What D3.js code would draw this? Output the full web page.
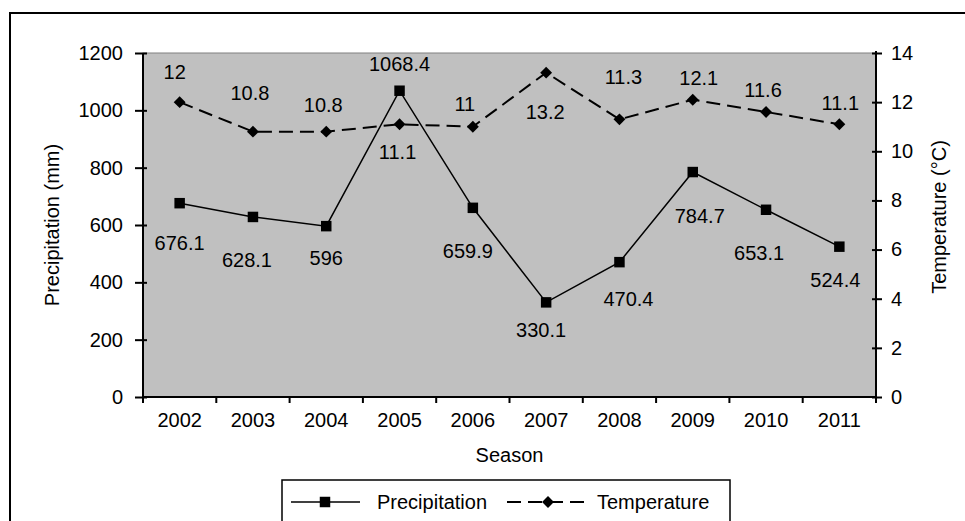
<!DOCTYPE html>
<html lang="en">

<head>
  <meta charset="UTF-8">
  <title>Precipitation and Temperature by Season</title>
  <script src="https://d3js.org/d3.v7.min.js"></script>
  <style>
    body {
      margin: 0;
      background: #fff;
    }

    text {
      font-family: "Liberation Sans", Arial, sans-serif;
      font-size: 20px;
      fill: #000;
    }
  </style>
</head>

<body>
  <div id="chart"></div>
  <script>
    // data
    const seasons = ["2002", "2003", "2004", "2005", "2006", "2007", "2008", "2009", "2010", "2011"];
    const precipitation = [676.1, 628.1, 596, 1068.4, 659.9, 330.1, 470.4, 784.7, 653.1, 524.4];
    const temperature = [12, 10.8, 10.8, 11.1, 11, 13.2, 11.3, 12.1, 11.6, 11.1];
    const precipTicks = [0, 200, 400, 600, 800, 1000, 1200];
    const tempTicks = [0, 2, 4, 6, 8, 10, 12, 14];

    // where Excel put each data label, relative to its point [dx, dy]
    const precipLabelPos = [[0, 40], [-6, 43], [0, 32], [0, -27], [-5, 43], [-5, 28], [9, 37], [7, 44], [-7, 43], [-4, 33]];
    const tempLabelPos = [[-5, -30], [-3, -39], [-3, -27], [-2, 28], [-8, -23], [-1, 39], [4, -42], [6, -22], [-3, -22], [1, -21]];

    const width = 965, height = 521;
    const plot = { left: 143, right: 876, top: 53, bottom: 397 };

    const svg = d3.select("#chart").append("svg")
      .attr("width", width)
      .attr("height", height);

    // outer chart frame (runs off the right and bottom edge)
    svg.append("rect")
      .attr("x", 10).attr("y", 13)
      .attr("width", 1000).attr("height", 600)
      .attr("fill", "#fff")
      .attr("stroke", "#000")
      .attr("stroke-width", 2);

    const x = d3.scaleBand().domain(seasons).range([plot.left, plot.right]);
    const yP = d3.scaleLinear().domain([0, 1200]).range([plot.bottom, plot.top]);
    const yT = d3.scaleLinear().domain([0, 14]).range([plot.bottom, plot.top]);
    const cx = d => x(d) + x.bandwidth() / 2;

    // plot area
    svg.append("rect")
      .attr("x", plot.left).attr("y", plot.top)
      .attr("width", plot.right - plot.left).attr("height", plot.bottom - plot.top)
      .attr("fill", "#c0c0c0")
      .attr("stroke", "#808080")
      .attr("stroke-width", 1);

    // left axis
    const left = svg.append("g").attr("transform", `translate(${plot.left},0)`)
      .call(d3.axisLeft(yP).tickValues(precipTicks).tickFormat(d3.format("d")).tickSize(8).tickPadding(12));
    left.select(".domain").remove();
    left.selectAll(".tick line").attr("x1", 4).attr("stroke-width", 2);
    left.append("line").attr("y1", plot.top).attr("y2", plot.bottom + 6)
      .attr("stroke", "#000").attr("stroke-width", 2);

    // right axis
    const right = svg.append("g").attr("transform", `translate(${plot.right},0)`)
      .call(d3.axisRight(yT).tickValues(tempTicks).tickFormat(d3.format("d")).tickSize(6).tickPadding(9));
    right.select(".domain").remove();
    right.selectAll(".tick line").attr("x1", -4).attr("stroke-width", 2);
    right.append("line").attr("y1", plot.top - 2).attr("y2", plot.bottom + 6)
      .attr("stroke", "#000").attr("stroke-width", 2);

    // bottom axis, ticks between the categories
    const bottom = svg.append("g").attr("transform", `translate(0,${plot.bottom})`);
    bottom.append("line").attr("x1", plot.left).attr("x2", plot.right)
      .attr("stroke", "#000").attr("stroke-width", 2);
    bottom.selectAll(".sep").data(seasons.concat(["end"])).join("line")
      .attr("x1", (d, i) => plot.left + i * x.bandwidth())
      .attr("x2", (d, i) => plot.left + i * x.bandwidth())
      .attr("y1", 0).attr("y2", 6)
      .attr("stroke", "#000").attr("stroke-width", 2);
    bottom.selectAll(".lab").data(seasons).join("text")
      .attr("x", cx).attr("y", 30)
      .attr("text-anchor", "middle")
      .text(d => d);

    svg.selectAll(".tick text").style("font-size", "20px").attr("fill", "#000")
      .style("font-family", '"Liberation Sans", Arial, sans-serif');

    // axis titles
    svg.append("text")
      .attr("x", (plot.left + plot.right) / 2).attr("y", 462)
      .attr("text-anchor", "middle").text("Season");
    svg.append("text")
      .attr("transform", `translate(59,${(plot.top + plot.bottom) / 2}) rotate(-90)`)
      .attr("text-anchor", "middle").text("Precipitation (mm)");
    svg.append("text")
      .attr("transform", `translate(946,217) rotate(-90)`)
      .attr("text-anchor", "middle").text("Temperature (°C)");

    // temperature: dashed line with diamonds
    const diamond = d3.symbol().type(d3.symbolDiamond2).size(90);
    const square = d3.symbol().type(d3.symbolSquare).size(110);

    svg.append("path")
      .datum(temperature)
      .attr("fill", "none")
      .attr("stroke", "#000")
      .attr("stroke-width", 2)
      .attr("stroke-dasharray", "14,7")
      .attr("d", d3.line().x((d, i) => cx(seasons[i])).y(d => yT(d)));

    // precipitation: solid line with squares
    svg.append("path")
      .datum(precipitation)
      .attr("fill", "none")
      .attr("stroke", "#000")
      .attr("stroke-width", 1.5)
      .attr("d", d3.line().x((d, i) => cx(seasons[i])).y(d => yP(d)));

    svg.selectAll(".tmark").data(temperature).join("path")
      .attr("transform", (d, i) => `translate(${cx(seasons[i])},${yT(d)})`)
      .attr("d", diamond).attr("fill", "#000");

    svg.selectAll(".pmark").data(precipitation).join("path")
      .attr("transform", (d, i) => `translate(${cx(seasons[i])},${yP(d)})`)
      .attr("d", square).attr("fill", "#000");

    // data labels
    svg.selectAll(".plab").data(precipitation).join("text")
      .attr("x", (d, i) => cx(seasons[i]) + precipLabelPos[i][0])
      .attr("y", (d, i) => yP(d) + precipLabelPos[i][1])
      .attr("dy", "0.35em")
      .attr("text-anchor", "middle")
      .text(d => d);

    svg.selectAll(".tlab").data(temperature).join("text")
      .attr("x", (d, i) => cx(seasons[i]) + tempLabelPos[i][0])
      .attr("y", (d, i) => yT(d) + tempLabelPos[i][1])
      .attr("dy", "0.35em")
      .attr("text-anchor", "middle")
      .text(d => d);

    // legend
    const legend = svg.append("g");
    legend.append("rect")
      .attr("x", 282).attr("y", 480)
      .attr("width", 448).attr("height", 60)
      .attr("fill", "#fff").attr("stroke", "#000").attr("stroke-width", 1.5);

    legend.append("line").attr("x1", 291).attr("x2", 360).attr("y1", 502).attr("y2", 502)
      .attr("stroke", "#000").attr("stroke-width", 1.5);
    legend.append("path").attr("transform", "translate(325,502)").attr("d", square).attr("fill", "#000");
    legend.append("text").attr("x", 377).attr("y", 502).attr("dy", "0.35em").text("Precipitation");

    legend.append("line").attr("x1", 507).attr("x2", 590).attr("y1", 502).attr("y2", 502)
      .attr("stroke", "#000").attr("stroke-width", 2).attr("stroke-dasharray", "14,7");
    legend.append("path").attr("transform", "translate(548,502)").attr("d", diamond).attr("fill", "#000");
    legend.append("text").attr("x", 597).attr("y", 502).attr("dy", "0.35em").text("Temperature");
  </script>
</body>

</html>
